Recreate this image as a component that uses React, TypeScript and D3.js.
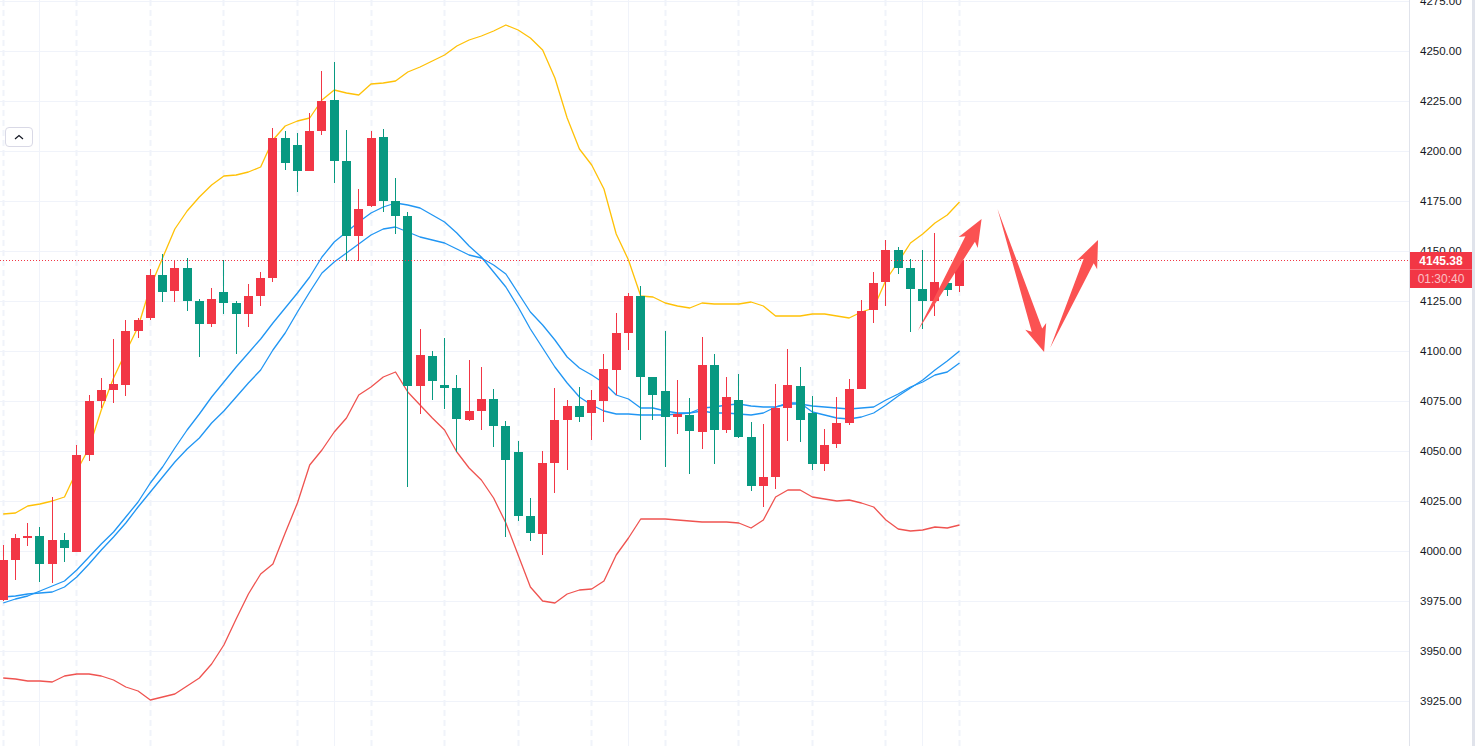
import React, { useEffect } from "react";
import * as d3 from "d3";

const WIDTH = 1475;
const HEIGHT = 746;
const PLOT_RIGHT = 1409.5;

const highs = [4003.25,4008.75,4014.25,4012.25,4027.25,4009.25,4053.25,4078.25,4086.75,4106.25,4115.75,4116.75,4141.25,4148.75,4145.75,4146.75,4126.25,4131.75,4145.75,4125.25,4133.75,4139.75,4211.75,4210.25,4209.25,4219.25,4240.25,4244.75,4210.75,4181.25,4210.25,4211.25,4186.75,4169.75,4111.25,4100.25,4106.75,4088.25,4095.75,4092.25,4081.25,4065.25,4055.25,4026.75,4050.25,4081.75,4075.75,4082.25,4080.75,4098.75,4119.25,4129.25,4132.75,4087.25,4110.25,4085.75,4076.75,4107.25,4098.75,4087.25,4088.75,4064.75,4063.75,4083.75,4101.25,4092.25,4077.75,4061.25,4077.25,4086.25,4125.75,4139.75,4155.75,4152.25,4146.25,4150.75,4159.25,4138.25,4145.38];
const opens = [3975.75,3995.75,4006.75,4007.75,3993.75,4005.75,3999.75,4048.25,4075.25,4080.75,4083.25,4110.25,4116.75,4138.25,4130.25,4141.75,4125.25,4113.75,4129.75,4124.25,4118.75,4127.75,4136.75,4206.75,4203.25,4190.25,4210.25,4225.75,4195.25,4157.75,4172.75,4207.25,4175.25,4167.75,4082.75,4097.75,4083.25,4081.75,4065.75,4070.25,4076.25,4062.75,4049.75,4017.75,4008.75,4044.25,4065.75,4072.75,4069.25,4075.25,4090.75,4109.25,4127.75,4087.25,4080.25,4067.25,4068.25,4059.75,4093.25,4060.75,4075.75,4057.25,4032.75,4037.25,4071.75,4082.75,4069.25,4043.75,4053.75,4064.25,4081.25,4120.75,4134.75,4150.75,4141.75,4131.25,4125.25,4134.25,4132.75];
const closes = [3995.75,4006.75,4007.75,3993.75,4005.75,4001.75,4048.25,4075.25,4080.75,4083.75,4110.25,4115.75,4138.25,4129.75,4141.75,4125.25,4113.75,4126.25,4124.25,4118.75,4127.75,4136.75,4206.75,4194.25,4190.25,4210.25,4225.25,4195.25,4157.75,4171.25,4206.75,4175.25,4167.75,4082.75,4098.25,4085.25,4081.75,4066.25,4070.25,4076.25,4062.75,4045.75,4017.75,4009.25,4044.25,4065.75,4072.75,4067.25,4075.75,4091.25,4109.25,4127.75,4087.25,4078.25,4067.25,4068.75,4060.25,4093.25,4060.75,4077.25,4057.25,4032.75,4037.25,4071.75,4083.25,4065.75,4043.75,4053.25,4064.25,4081.25,4120.25,4134.25,4150.75,4141.75,4131.25,4125.25,4134.75,4130.75,4145.38];
const lows = [3975.25,3985.75,4002.75,3984.75,3984.25,3994.75,3999.75,4045.25,4071.75,4074.25,4077.75,4106.75,4115.75,4124.75,4124.75,4120.25,4097.25,4112.25,4118.75,4098.75,4112.25,4122.75,4134.75,4190.75,4179.75,4190.25,4208.25,4184.25,4145.25,4145.25,4172.25,4169.75,4158.75,4032.25,4068.75,4075.75,4071.25,4049.75,4065.25,4060.75,4052.25,4007.25,4015.25,4005.25,3998.25,4029.25,4040.75,4064.75,4055.75,4064.75,4078.25,4100.75,4055.75,4065.75,4042.25,4058.75,4038.75,4051.25,4043.75,4059.25,4056.75,4030.25,4022.25,4031.25,4055.25,4054.75,4040.75,4040.25,4051.75,4063.25,4081.25,4114.25,4122.75,4138.75,4109.75,4111.25,4117.75,4127.75,4129.75];

const upperBand = [4018.75,4019.25,4022.75,4023.75,4025.25,4027.25,4040.25,4051.75,4070.75,4086.75,4099.75,4112.25,4132.25,4146.75,4161.25,4170.25,4177.25,4183.25,4187.75,4188.25,4189.75,4192.25,4205.75,4212.75,4215.25,4216.75,4225.75,4230.75,4229.25,4228.25,4233.75,4234.25,4235.25,4239.75,4242.25,4245.25,4248.25,4252.75,4255.75,4257.75,4260.25,4263.25,4260.75,4256.75,4250.75,4236.75,4216.75,4201.25,4193.25,4181.25,4158.75,4145.75,4127.75,4127.25,4124.25,4122.75,4121.75,4124.25,4123.75,4123.75,4123.75,4124.75,4122.75,4117.75,4117.75,4117.75,4118.75,4118.75,4117.75,4116.75,4119.75,4121.75,4135.75,4144.75,4154.25,4158.75,4164.25,4168.25,4174.75];
const lowerBand = [3936.75,3936.25,3935.25,3935.25,3934.75,3937.75,3938.75,3938.75,3937.75,3935.75,3932.25,3930.25,3925.75,3927.25,3928.75,3932.75,3936.75,3943.75,3953.25,3966.25,3978.75,3988.75,3993.75,4009.25,4024.25,4043.25,4050.75,4059.75,4066.75,4078.25,4082.25,4087.25,4089.75,4079.75,4073.25,4066.75,4060.75,4049.75,4041.75,4035.75,4026.75,4014.25,3998.25,3982.25,3975.25,3974.25,3978.75,3980.75,3981.25,3985.25,3998.25,4006.75,4016.25,4016.25,4016.25,4015.75,4015.25,4014.75,4014.75,4014.75,4014.25,4011.75,4015.75,4027.25,4030.75,4030.75,4027.25,4026.25,4025.25,4025.75,4024.25,4022.25,4015.75,4011.25,4010.25,4010.75,4012.25,4011.75,4013.25];
const fastAverage = [3974.25,3976.25,3977.75,3980.25,3982.75,3985.25,3990.75,3997.25,4003.75,4009.75,4017.25,4024.75,4034.25,4042.25,4051.75,4060.75,4068.75,4077.25,4084.75,4092.25,4099.25,4106.25,4114.25,4121.75,4129.25,4137.25,4147.25,4154.75,4159.75,4164.75,4169.25,4172.25,4174.25,4173.25,4171.75,4168.25,4164.75,4159.25,4152.75,4147.25,4139.75,4132.25,4122.25,4111.25,4101.75,4092.25,4084.25,4077.25,4073.25,4070.25,4068.75,4068.75,4068.25,4068.25,4068.25,4068.75,4069.25,4070.25,4069.25,4069.25,4068.75,4068.25,4069.25,4072.25,4074.25,4074.25,4069.75,4068.25,4066.75,4066.25,4067.25,4069.25,4073.25,4077.75,4081.75,4085.75,4090.75,4095.25,4100.25];
const slowAverage = [3977.25,3977.75,3978.75,3979.25,3979.75,3982.25,3987.25,3993.75,4000.75,4007.25,4014.25,4022.25,4029.75,4037.25,4044.75,4051.25,4056.75,4064.25,4070.25,4077.25,4084.25,4090.75,4100.75,4109.25,4119.75,4129.75,4139.25,4144.75,4149.25,4153.75,4158.25,4161.25,4162.25,4159.75,4157.25,4155.75,4154.25,4151.25,4148.25,4146.75,4143.25,4138.75,4129.25,4119.75,4113.25,4105.75,4097.25,4091.75,4088.25,4084.25,4078.25,4076.25,4071.75,4071.75,4070.25,4069.25,4069.25,4071.75,4072.25,4073.25,4073.75,4072.75,4072.25,4072.25,4073.75,4073.75,4072.75,4072.25,4071.75,4071.25,4071.75,4072.25,4075.75,4078.75,4082.25,4084.75,4088.25,4089.75,4094.25];

const priceTicks = [4275,4250,4225,4200,4175,4150,4125,4100,4075,4050,4025,4000,3975,3950,3925];
const dashedBars = [0,6,12,18,24,30,36,42,48,54,60,66,72,78];
const solidBars = [3,27,51,75];
const lastPrice = 4145.38;
const countdown = "01:30:40";

// Hand-drawn forecast arrows: [bar, price] of tail and tip.
const arrowTails = [[74.6,4110.4],[81.1,4171.25],[85.4,4101.9]];
const arrowTips = [[79.8,4166.25],[84.9,4099.75],[89.3,4155.75]];

const RED = "#f23645";
const GREEN = "#089981";
const GRID = "#f0f3fa";
const AXIS = "#e0e3eb";
const TEXT_FONT = "'Liberation Sans', Arial, sans-serif";

const x = d3.scaleLinear().domain([0, 78]).range([3.2, 959.5]);
const y = d3.scaleLinear().domain([4250, 3925]).range([51.5, 701.5]);

const seriesLine = d3
  .line<number>()
  .x((_, i) => x(i))
  .y((d) => y(d));

function arrowPath(tail: number[], tip: number[]) {
  const tx = x(tail[0]), ty = y(tail[1]);
  const px = x(tip[0]), py = y(tip[1]);
  const len = Math.hypot(px - tx, py - ty);
  const dx = (px - tx) / len, dy = (py - ty) / len;
  const nx = -dy, ny = dx;
  const at = (along: number, side: number) =>
    [px - dx * along + nx * side, py - dy * along + ny * side] as [number, number];
  const pts: [number, number][] = [
    [tx, ty],
    at(23, 5.5),
    at(27, 11),
    [px, py],
    at(27, -11),
    at(23, -5.5),
  ];
  return d3.line()(pts) + "Z";
}

export default function App() {
  useEffect(() => {
    document.body.style.margin = "0";
    document.body.style.overflow = "hidden";
  }, []);

  return (
    <svg
      width={WIDTH}
      height={HEIGHT}
      viewBox={`0 0 ${WIDTH} ${HEIGHT}`}
      style={{ display: "block", position: "absolute", left: 0, top: 0, background: "#fff" }}
    >
      {priceTicks.map((t) => (
        <line key={t} x1={0} x2={PLOT_RIGHT} y1={y(t)} y2={y(t)} stroke={GRID} strokeWidth={1} />
      ))}
      {solidBars.map((b) => (
        <line key={b} x1={Math.floor(x(b)) + 0.5} x2={Math.floor(x(b)) + 0.5} y1={0} y2={HEIGHT} stroke={GRID} strokeWidth={1} />
      ))}
      {dashedBars.map((b) => (
        <line key={b} x1={Math.floor(x(b)) + 0.5} x2={Math.floor(x(b)) + 0.5} y1={0} y2={HEIGHT} stroke={GRID} strokeWidth={2} strokeDasharray="6 4" />
      ))}

      <g fill="none" strokeWidth={1.3} strokeLinejoin="round">
        <path d={seriesLine(upperBand) ?? ""} stroke="#ffc107" />
        <path d={seriesLine(lowerBand) ?? ""} stroke="#ef5350" />
        <path d={seriesLine(fastAverage) ?? ""} stroke="#2196f3" />
        <path d={seriesLine(slowAverage) ?? ""} stroke="#2196f3" />
      </g>

      <g shapeRendering="crispEdges">
        {opens.map((o, i) => {
          const c = closes[i];
          const color = c >= o ? RED : GREEN;
          const col = Math.floor(x(i));
          const top = Math.round(y(Math.max(o, c)));
          const bot = Math.round(y(Math.min(o, c)));
          return (
            <g key={i} fill={color}>
              <rect x={col} width={1} y={Math.round(y(highs[i]))} height={Math.max(1, Math.round(y(lows[i])) - Math.round(y(highs[i])))} />
              <rect x={col - 4} width={9} y={top} height={Math.max(1, bot - top)} />
            </g>
          );
        })}
      </g>

      <line x1={0} x2={PLOT_RIGHT} y1={Math.floor(y(lastPrice)) + 0.5} y2={Math.floor(y(lastPrice)) + 0.5} stroke={RED} strokeWidth={1} strokeDasharray="1 2" />

      <g fill="#fb5252">
        {arrowTails.map((t, i) => (
          <path key={i} d={arrowPath(t, arrowTips[i])} />
        ))}
      </g>

      <rect x={5.5} y={127.5} width={27} height={19} rx={3.5} fill="#fff" stroke="#d9d9e6" strokeWidth={1} />
      <path d="M15 139 L19 135.5 L23 139" fill="none" stroke="#131722" strokeWidth={1.2} />

      <rect x={1410} y={0} width={62} height={HEIGHT} fill="#fff" />
      <rect x={1409} y={0} width={1} height={HEIGHT} fill={AXIS} />
      <rect x={1472} y={0} width={3} height={HEIGHT} fill={AXIS} />
      {priceTicks.map((t) => (
        <text key={t} x={1420} y={y(t) + 3} fontFamily={TEXT_FONT} fontSize={11.5} fill="#131722">
          {t.toFixed(2)}
        </text>
      ))}

      <rect x={1410} y={252} width={62} height={36} fill={RED} />
      <rect x={1410} y={269} width={62} height={1} fill="#f76b77" />
      <text x={1441} y={265} textAnchor="middle" fontFamily={TEXT_FONT} fontSize={12} fontWeight={700} fill="#fff">
        {lastPrice.toFixed(2)}
      </text>
      <text x={1441} y={283} textAnchor="middle" fontFamily={TEXT_FONT} fontSize={12} fill="#fff" fillOpacity={0.7}>
        {countdown}
      </text>
    </svg>
  );
}
